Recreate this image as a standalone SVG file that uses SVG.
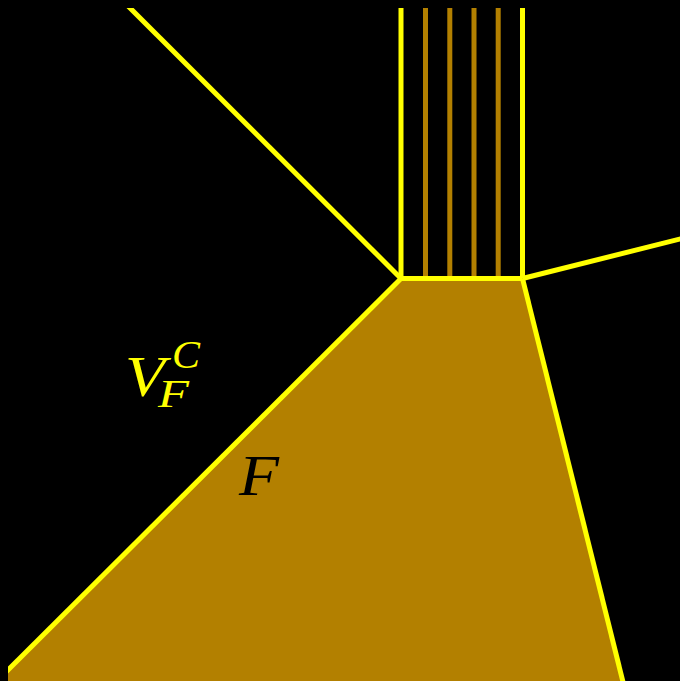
<svg xmlns="http://www.w3.org/2000/svg" width="680" height="681" viewBox="0 0 680 681">
<defs>
<clipPath id="clip"><rect x="8" y="8" width="672" height="673"/></clipPath>
<style>
.y{stroke:#FFFF00;stroke-width:5;fill:none}
.b{stroke:#B38000;stroke-width:5;fill:none}
.m{font-family:"Liberation Serif","DejaVu Serif",serif;font-style:italic}
</style>
</defs>
<rect x="0" y="0" width="680" height="681" fill="#000"/>
<g clip-path="url(#clip)">
<g id="face-F">
<polygon points="401,278.5 522.5,278.5 624,685 4,685 4,674" fill="#B38000"/>
</g>
<g id="connectors">
<line class="b" x1="425.5" y1="0" x2="425.5" y2="278.5"/>
<line class="b" x1="449.8" y1="0" x2="449.8" y2="278.5"/>
<line class="b" x1="474" y1="0" x2="474" y2="278.5"/>
<line class="b" x1="498.2" y1="0" x2="498.2" y2="278.5"/>
<line class="y" x1="401" y1="0" x2="401" y2="278.5"/>
<line class="y" x1="522.5" y1="0" x2="522.5" y2="278.5"/>
<line class="y" x1="401" y1="278.5" x2="122" y2="0"/>
<line class="y" x1="401" y1="278.5" x2="522.5" y2="278.5"/>
<line class="y" x1="522.5" y1="278.5" x2="690" y2="236.5"/>
<line class="y" x1="522.5" y1="278.5" x2="624.5" y2="688"/>
<line class="y" x1="401" y1="278.5" x2="0" y2="678"/>
</g>
</g>
<g id="label-VFC">
<text class="m" x="125" y="396" font-size="58" fill="#FFFF00" textLength="40" lengthAdjust="spacingAndGlyphs">V</text>
<text class="m" x="172" y="368" font-size="40" fill="#FFFF00" textLength="28" lengthAdjust="spacingAndGlyphs">C</text>
<text class="m" x="158" y="407" font-size="40" fill="#FFFF00" textLength="31" lengthAdjust="spacingAndGlyphs">F</text>
</g>
<g id="label-F">
<text class="m" x="239" y="495" font-size="56" fill="#000" textLength="40" lengthAdjust="spacingAndGlyphs">F</text>
</g>
</svg>
